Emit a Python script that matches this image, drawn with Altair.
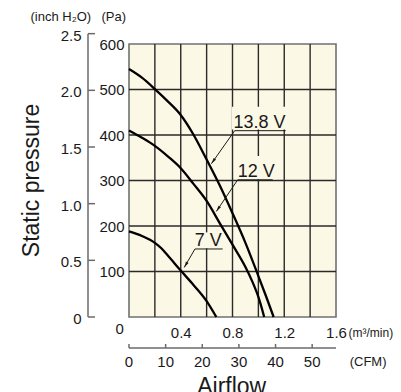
import altair as alt
import pandas as pd

# ---------------- data ----------------
flow_13_8 = [0, 0.1, 0.2, 0.3, 0.4, 0.5, 0.6, 0.7, 0.8, 0.9, 1.0, 1.06, 1.118]
pres_13_8 = [545, 526, 501, 474, 444, 400, 346, 290, 228, 163, 90, 45, 0]
flow_12 = [0, 0.1, 0.2, 0.3, 0.4, 0.5, 0.6, 0.7, 0.8, 0.9, 0.95, 1.0, 1.045]
pres_12 = [410, 394, 376, 353, 327, 292, 255, 207, 159, 110, 80, 44, 0]
flow_7 = [0, 0.1, 0.2, 0.25, 0.3, 0.4, 0.5, 0.6, 0.675]
pres_7 = [188, 178, 163, 151, 135, 102, 70, 35, 0]

series_names = ["13.8 V", "12 V", "7 V"]

grid_flow = [0.2, 0.4, 0.6, 0.8, 1.0, 1.2, 1.4]
grid_pres = [100, 200, 300, 400, 500]
flow_ticks = [0.4, 0.8, 1.2, 1.6]
pres_ticks = [100, 200, 300, 400, 500, 600]
inch_ticks = [0, 0.5, 1.0, 1.5, 2.0, 2.5]
inch_labels = ["0", "0.5", "1.0", "1.5", "2.0", "2.5"]
cfm_ticks = [0, 10, 20, 30, 40, 50]
cfm_max = 1.6 * 35.3147

PA_PER_INCH = 249.089
M3MIN_PER_CFM = 1 / 35.3147

# annotation positions (data units)
lab_text = ["13.8 V", "12 V", "7 V"]
lab_x = [0.808, 0.840, 0.508]
lab_y = [416, 308, 155]
ul_x = [0.817, 0.840, 0.510]
ul_x2 = [1.211, 1.111, 0.724]
ul_y = [409.5, 301.5, 149.5]
tip_x = [0.637, 0.675, 0.427]
tip_y = [337, 232, 109]
tip_angle = [215, 214, 210]
bg_x = [0.794, 0.825, 0.492]
bg_x2 = [1.242, 1.141, 0.732]
bg_y = [412, 303, 151]
bg_y2 = [462, 354, 186]

W, H = 207, 273
FONT = "Liberation Sans, Arial, Helvetica, sans-serif"
BG = "#FCF8E6"
INK = "#1a1a1a"
AXC = "#6b6b6b"

xs = alt.Scale(domain=[0, 1.6], nice=False, zero=True)
ys = alt.Scale(domain=[0, 600], nice=False, zero=True)

x_axis = alt.Axis(values=flow_ticks, title=None, grid=False, domain=False, ticks=False,
                  tickSize=0, labelPadding=15, labelBaseline="middle", labelFontSize=15,
                  labelFont=FONT, labelColor=INK, labelFlush=False,
                  labelExpr="format(datum.value, '.1f')")
y_axis = alt.Axis(values=pres_ticks, title=None, grid=False, domain=False, ticks=False,
                  tickSize=0, labelPadding=5, labelFontSize=15, labelFont=FONT,
                  labelColor=INK)

# ---------------- tables ----------------
curves = pd.DataFrame({
    "flow": flow_13_8 + flow_12 + flow_7,
    "pres": pres_13_8 + pres_12 + pres_7,
    "series": [series_names[0]] * len(flow_13_8) + [series_names[1]] * len(flow_12)
              + [series_names[2]] * len(flow_7),
})
gv = pd.DataFrame({"gx": grid_flow})
gh = pd.DataFrame({"gy": grid_pres})
bg = pd.DataFrame({"x": bg_x, "x2": bg_x2, "y": bg_y, "y2": bg_y2})
ul = pd.DataFrame({"x": ul_x, "x2": ul_x2, "y": ul_y})
leader = pd.DataFrame({"x": ul_x, "y": ul_y, "x2": tip_x, "y2": tip_y})
tips = pd.DataFrame({"x": tip_x, "y": tip_y, "a": tip_angle})
labs = pd.DataFrame({"x": lab_x, "y": lab_y, "t": lab_text})
inch = pd.DataFrame({"inch": inch_ticks, "lab": inch_labels})
cfm = pd.DataFrame({"cfm": cfm_ticks})
cfm_line = pd.DataFrame({"a": [0], "b": [cfm_max]})

# ---------------- layers ----------------
grid_v = alt.Chart(gv).mark_rule(color="#2a2a2a", strokeWidth=1.4).encode(
    x=alt.X("gx:Q", scale=xs, axis=x_axis), y=alt.value(0), y2=alt.value(H))
grid_h = alt.Chart(gh).mark_rule(color="#2a2a2a", strokeWidth=1.4).encode(
    y=alt.Y("gy:Q", scale=ys, axis=y_axis), x=alt.value(0), x2=alt.value(W))

bg_rect = alt.Chart(bg).mark_rect(color=BG).encode(
    x=alt.X("x:Q", scale=xs, axis=x_axis), x2="x2:Q",
    y=alt.Y("y:Q", scale=ys, axis=y_axis), y2="y2:Q")

lines = alt.Chart(curves).mark_line(color="#000000", strokeWidth=2.3, interpolate="monotone").encode(
    x=alt.X("flow:Q", scale=xs, axis=x_axis),
    y=alt.Y("pres:Q", scale=ys, axis=y_axis),
    detail="series:N")

underline = alt.Chart(ul).mark_rule(color=INK, strokeWidth=1).encode(
    x=alt.X("x:Q", scale=xs, axis=x_axis), x2="x2:Q", y=alt.Y("y:Q", scale=ys, axis=y_axis))
leaders = alt.Chart(leader).mark_rule(color=INK, strokeWidth=1).encode(
    x=alt.X("x:Q", scale=xs, axis=x_axis), x2="x2:Q",
    y=alt.Y("y:Q", scale=ys, axis=y_axis), y2="y2:Q")
heads = alt.Chart(tips).mark_point(
    shape="M0,0L0.5,2L-0.5,2Z", filled=True, color=INK, size=36, opacity=1,
    strokeWidth=0.5).encode(
    x=alt.X("x:Q", scale=xs, axis=x_axis), y=alt.Y("y:Q", scale=ys, axis=y_axis),
    angle=alt.Angle("a:Q", scale=None))
label_text = alt.Chart(labs).mark_text(
    align="left", baseline="alphabetic", fontSize=18, font=FONT, color=INK).encode(
    x=alt.X("x:Q", scale=xs, axis=x_axis), y=alt.Y("y:Q", scale=ys, axis=y_axis), text="t:N")

# inch H2O axis (drawn on the Pa scale)
inch_axis = alt.Chart(cfm_line).mark_rule(color=AXC, strokeWidth=1.5).encode(
    x=alt.value(-41), y=alt.value(H),
    y2=alt.value(H - 2.5 * PA_PER_INCH * H / 600))
inch_ticks_l = alt.Chart(inch).transform_calculate(pa=f"datum.inch * {PA_PER_INCH}").mark_rule(
    color=AXC, strokeWidth=1.5).encode(
    y=alt.Y("pa:Q", scale=ys, axis=y_axis), x=alt.value(-41), x2=alt.value(-34))
inch_text = alt.Chart(inch).transform_calculate(pa=f"datum.inch * {PA_PER_INCH}").mark_text(
    align="right", baseline="middle", fontSize=15, font=FONT, color=INK, dy=2).encode(
    y=alt.Y("pa:Q", scale=ys, axis=y_axis), x=alt.value(-47.5), text="lab:N")

# CFM axis (drawn on the m3/min scale)
cfm_axis = alt.Chart(cfm_line).mark_rule(color=AXC, strokeWidth=1.5).encode(
    x=alt.value(0), x2=alt.value(W), y=alt.value(H + 31))
cfm_tick_l = alt.Chart(cfm).transform_calculate(f=f"datum.cfm * {M3MIN_PER_CFM}").mark_rule(
    color=AXC, strokeWidth=1.5).encode(
    x=alt.X("f:Q", scale=xs, axis=x_axis), y=alt.value(H + 27), y2=alt.value(H + 31))
cfm_text = alt.Chart(cfm).transform_calculate(f=f"datum.cfm * {M3MIN_PER_CFM}").mark_text(
    align="center", baseline="middle", fontSize=15, font=FONT, color=INK).encode(
    x=alt.X("f:Q", scale=xs, axis=x_axis), y=alt.value(H + 44.5), text="cfm:Q")


def txt(s, x, y, size, align="left", baseline="middle", angle=0):
    kw = dict(align=align, baseline=baseline, fontSize=size, font=FONT, color=INK, text=s)
    if angle:
        kw["angle"] = angle
    return alt.Chart(cfm_line).mark_text(**kw).encode(x=alt.value(x), y=alt.value(y))


texts = [
    txt("0", -9.3, 285, 15, align="center"),
    txt("(inch H₂O)", -98.5, -27, 13),
    txt("(Pa)", -15.3, -27, 13, align="center"),
    txt("(m³/min)", 219.5, 288.5, 12),
    txt("(CFM)", 220.7, 317.5, 13),
    txt("Static pressure", -97, 136.5, 23, align="center", angle=270),
    txt("Airflow", 102.7, 350, 23, align="center", baseline="alphabetic"),
]

chart = alt.layer(
    grid_v, grid_h, bg_rect, lines, underline, leaders, heads, label_text,
    inch_axis, inch_ticks_l, inch_text, cfm_axis, cfm_tick_l, cfm_text, *texts
).properties(
    width=W, height=H,
    padding={"left": 121, "top": 36, "right": 57, "bottom": 75},
    autosize=alt.AutoSizeParams(type="none"),
    background="#ffffff",
).configure_view(fill=BG, stroke="#707070", strokeWidth=1.6)

chart.save("out.html", embed_options={"renderer": "svg", "actions": False})
